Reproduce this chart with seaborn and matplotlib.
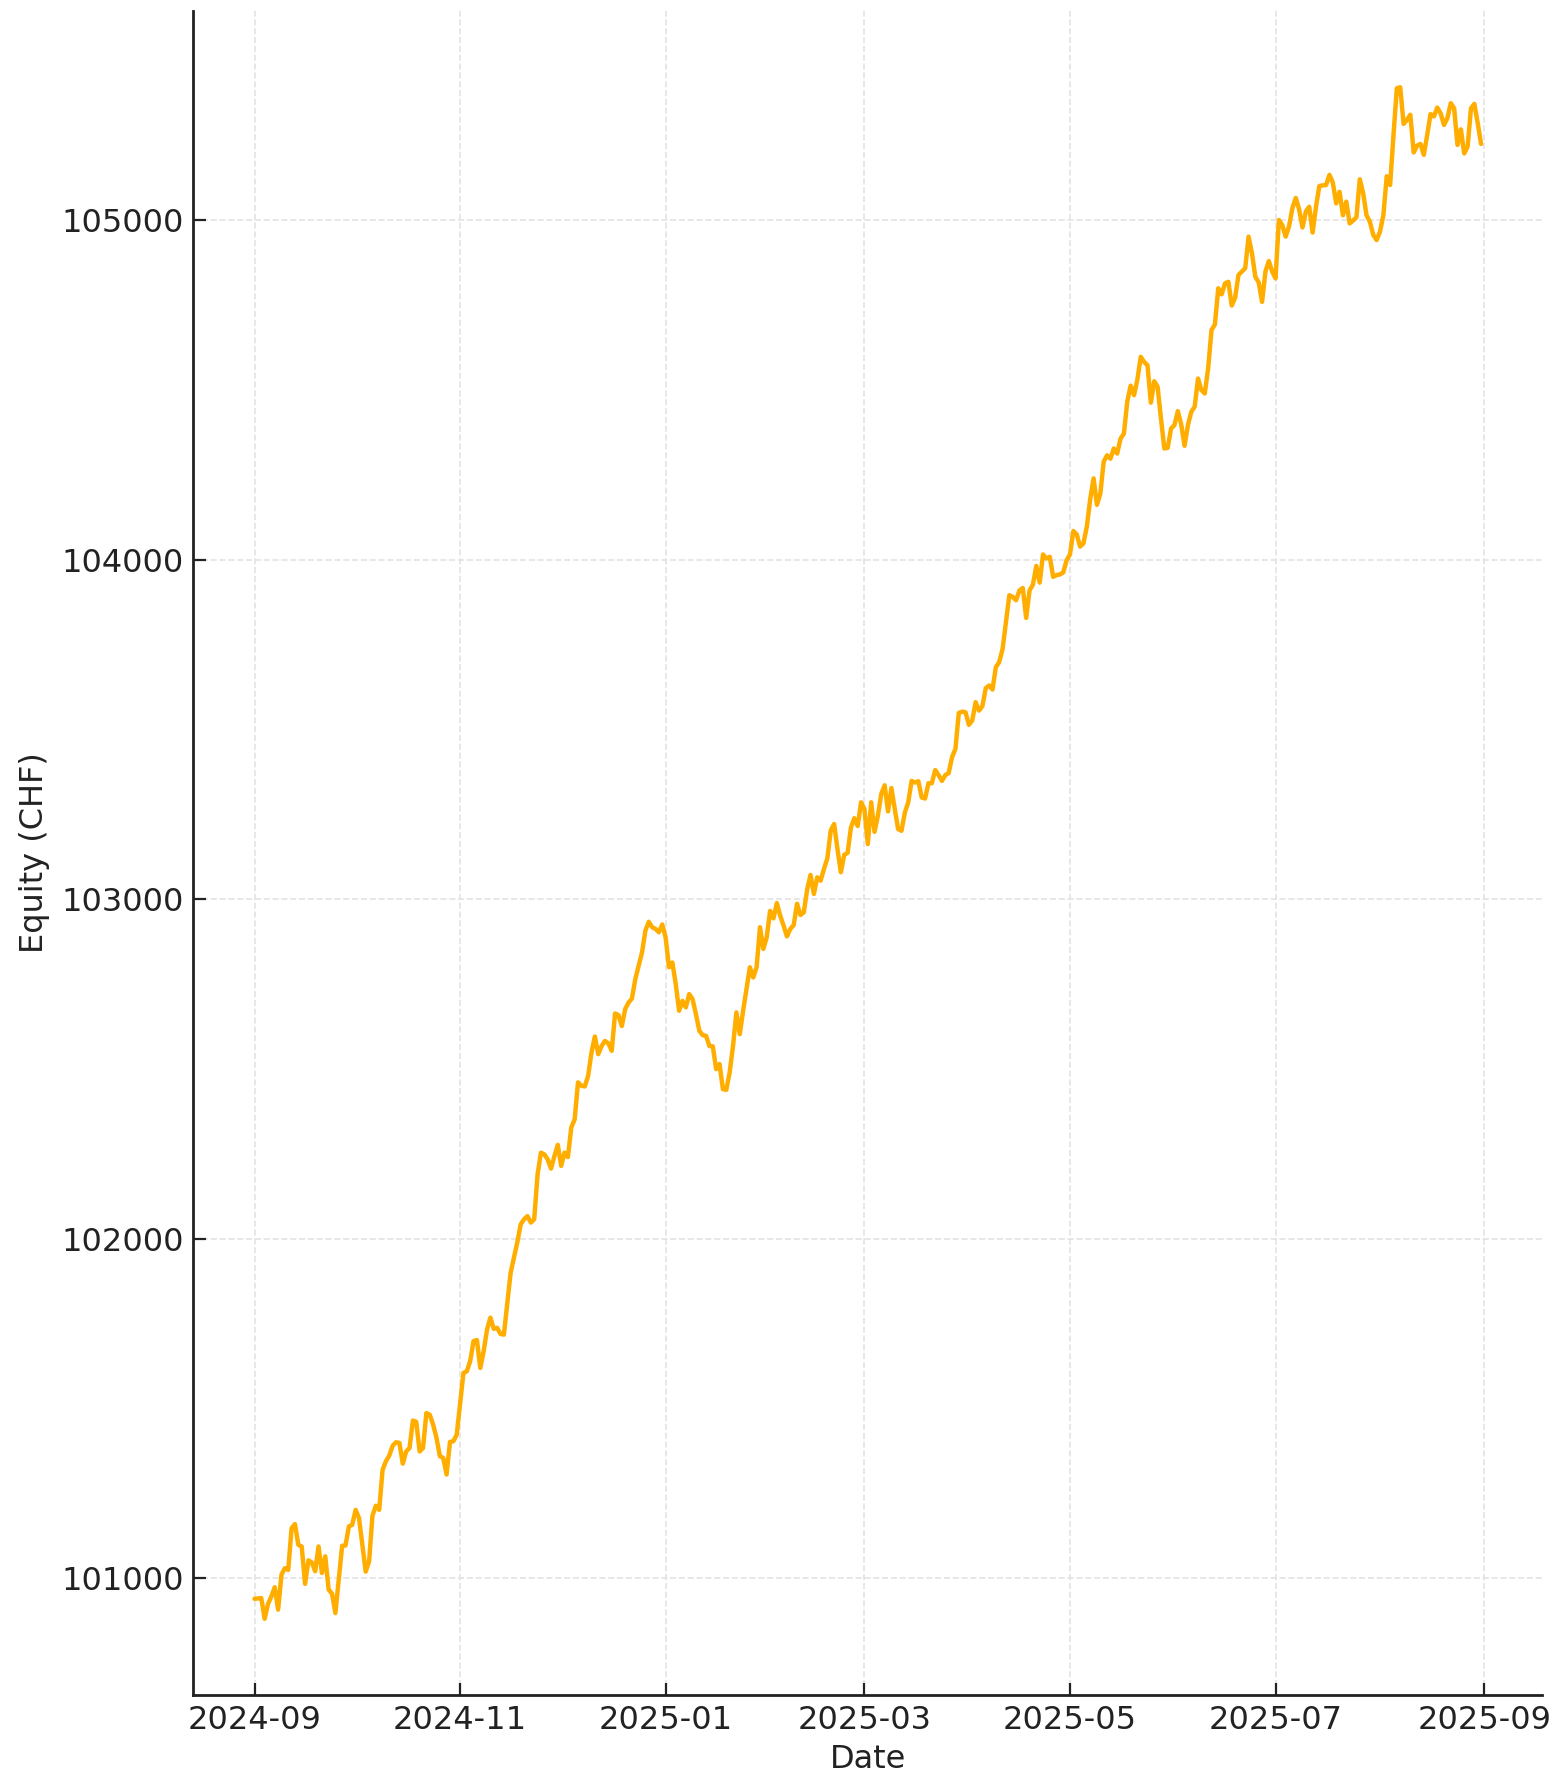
import pandas as pd
import matplotlib
matplotlib.use('Agg')
import matplotlib.pyplot as plt
import matplotlib.dates as mdates
from matplotlib.ticker import MultipleLocator
import seaborn as sns

# equity curve (day offset from start date, value in CHF)
start_date = '2024-09-01'

day_offset = [
    0, 2, 3, 4, 5, 6, 7, 8, 9, 10, 11, 12, 13, 14, 15, 16, 17, 18, 19, 20,
    21, 22, 23, 24, 26, 27, 28, 29, 30, 31, 33, 34, 35, 36, 37, 38, 39, 40,
    41, 42, 43, 44, 45, 46, 47, 48, 49, 50, 51, 52, 53, 54, 55, 56, 57, 58,
    59, 60, 62, 63, 64, 65, 66, 67, 68, 69, 70, 71, 72, 73, 74, 76, 78, 79,
    80, 81, 82, 83, 84, 85, 86, 87, 88, 89, 90, 91, 92, 93, 94, 95, 96, 97,
    98, 99, 100, 101, 102, 103, 104, 105, 106, 107, 108, 109, 110, 111, 112,
    113, 114, 115, 116, 117, 118, 119, 120, 121, 122, 123, 124, 125, 126,
    127, 128, 129, 130, 131, 132, 133, 134, 135, 136, 137, 138, 139, 140,
    141, 142, 143, 144, 145, 146, 147, 148, 149, 150, 151, 152, 153, 154,
    155, 156, 157, 158, 159, 160, 161, 162, 163, 164, 165, 166, 167, 168,
    169, 170, 171, 172, 173, 174, 175, 176, 177, 178, 179, 180, 181, 182,
    183, 184, 185, 186, 187, 188, 189, 190, 191, 192, 193, 194, 195, 196,
    197, 198, 199, 200, 201, 202, 203, 204, 205, 206, 207, 208, 209, 210,
    211, 212, 213, 214, 215, 216, 217, 218, 219, 220, 221, 222, 223, 224,
    225, 226, 227, 228, 229, 230, 231, 232, 233, 234, 235, 236, 237, 238,
    239, 240, 241, 242, 243, 244, 245, 246, 247, 248, 249, 250, 251, 252,
    253, 254, 255, 256, 257, 258, 259, 260, 261, 262, 263, 264, 265, 266,
    267, 268, 269, 270, 271, 272, 273, 274, 275, 276, 277, 278, 279, 280,
    281, 282, 283, 284, 285, 286, 287, 288, 289, 290, 291, 292, 293, 294,
    295, 296, 297, 298, 299, 300, 301, 302, 303, 304, 305, 306, 307, 308,
    309, 310, 311, 312, 313, 314, 315, 316, 317, 318, 319, 320, 321, 322,
    323, 324, 325, 326, 327, 328, 329, 330, 331, 332, 333, 334, 335, 336,
    337, 338, 339, 340, 341, 342, 343, 344, 345, 346, 347, 348, 349, 350,
    351, 352, 353, 354, 355, 356, 357, 358, 359, 360, 361, 362, 363, 364,
]

equity = [
    100939, 100941, 100880, 100924, 100946, 100973, 100907, 101010, 101029,
    101024, 101147, 101159, 101098, 101093, 100983, 101052, 101046, 101020,
    101093, 101015, 101064, 100966, 100954, 100897, 101095, 101096, 101152,
    101157, 101201, 101177, 101019, 101049, 101184, 101213, 101201, 101319,
    101344, 101361, 101390, 101400, 101398, 101337, 101373, 101383, 101464,
    101460, 101373, 101383, 101486, 101481, 101452, 101413, 101359, 101354,
    101305, 101401, 101403, 101422, 101604, 101609, 101639, 101698, 101701,
    101619, 101668, 101732, 101767, 101734, 101737, 101719, 101717, 101899,
    101990, 102042, 102057, 102066, 102047, 102057, 102189, 102253, 102248,
    102233, 102206, 102243, 102276, 102214, 102253, 102240, 102327, 102351,
    102460, 102450, 102448, 102479, 102548, 102595, 102543, 102567, 102582,
    102575, 102553, 102663, 102658, 102626, 102676, 102695, 102707, 102764,
    102803, 102843, 102907, 102933, 102917, 102912, 102902, 102925, 102887,
    102799, 102813, 102750, 102671, 102700, 102681, 102720, 102705, 102661,
    102612, 102599, 102597, 102567, 102566, 102499, 102514, 102440, 102438,
    102489, 102567, 102666, 102602, 102671, 102735, 102799, 102769, 102799,
    102917, 102853, 102887, 102965, 102943, 102988, 102951, 102922, 102890,
    102912, 102923, 102986, 102953, 102961, 103028, 103071, 103015, 103064,
    103054, 103089, 103120, 103202, 103221, 103147, 103079, 103130, 103136,
    103211, 103238, 103215, 103285, 103265, 103162, 103285, 103198, 103246,
    103310, 103335, 103258, 103327, 103265, 103206, 103201, 103255, 103285,
    103348, 103343, 103347, 103299, 103296, 103341, 103341, 103380, 103365,
    103348, 103365, 103371, 103418, 103442, 103548, 103552, 103550, 103513,
    103526, 103580, 103555, 103568, 103621, 103629, 103617, 103683, 103698,
    103737, 103816, 103895, 103890, 103880, 103909, 103916, 103828, 103909,
    103926, 103981, 103932, 104015, 104003, 104008, 103949, 103954, 103956,
    103962, 103998, 104015, 104084, 104074, 104038, 104048, 104097, 104178,
    104239, 104161, 104194, 104288, 104307, 104297, 104327, 104312, 104356,
    104371, 104465, 104512, 104484, 104530, 104597, 104582, 104572, 104462,
    104525, 104509, 104415, 104327, 104329, 104386, 104396, 104437, 104398,
    104335, 104396, 104435, 104450, 104533, 104499, 104489, 104563, 104676,
    104692, 104799, 104781, 104813, 104818, 104748, 104771, 104838, 104848,
    104858, 104951, 104902, 104833, 104816, 104759, 104848, 104879, 104848,
    104828, 105000, 104985, 104951, 104981, 105035, 105065, 105031, 104978,
    105025, 105039, 104963, 105039, 105100, 105102, 105103, 105133, 105110,
    105049, 105083, 105014, 105054, 104990, 104998, 105008, 105120, 105079,
    105014, 104995, 104956, 104941, 104966, 105014, 105129, 105103, 105250,
    105388, 105391, 105283, 105295, 105310, 105199, 105219, 105224, 105192,
    105250, 105312, 105305, 105331, 105314, 105280, 105300, 105344, 105329,
    105221, 105267, 105196, 105216, 105329, 105342, 105285, 105224,
]

LINE_COLOR = '#FFAE00'
TEXT_COLOR = '#222222'


def plot_equity_curve(output: str = 'out.png') -> None:
    sns.set_style('ticks')
    plt.rcParams['font.family'] = ['DejaVu Sans']

    df = pd.DataFrame({
        'Date': pd.to_datetime(start_date) + pd.to_timedelta(day_offset, unit='D'),
        'Equity': equity,
    })

    fig, ax = plt.subplots(figsize=(7.79, 8.895), dpi=200)
    fig.subplots_adjust(left=0.124, right=0.990, top=0.994, bottom=0.047)

    sns.lineplot(data=df, x='Date', y='Equity', color=LINE_COLOR,
                 linewidth=1.6, ax=ax)

    ax.xaxis.set_major_locator(mdates.MonthLocator(bymonth=[1, 3, 5, 7, 9, 11]))
    ax.xaxis.set_major_formatter(mdates.DateFormatter('%Y-%m'))
    ax.yaxis.set_major_locator(MultipleLocator(1000))
    ax.ticklabel_format(axis='y', style='plain', useOffset=False)

    ax.grid(True, linestyle='--', color='#e3e3e3', linewidth=0.6)
    ax.set_axisbelow(True)
    sns.despine(ax=ax)
    for side in ['left', 'bottom']:
        ax.spines[side].set_color(TEXT_COLOR)
        ax.spines[side].set_linewidth(1.0)

    ax.tick_params(direction='in', length=4.5, width=0.8, color=TEXT_COLOR,
                   labelsize=11.5, labelcolor=TEXT_COLOR)
    ax.set_xlabel('Date', fontsize=11.5, color=TEXT_COLOR, labelpad=3)
    ax.set_ylabel('Equity (CHF)', fontsize=11.5, color=TEXT_COLOR, labelpad=4)

    fig.savefig(output, dpi=200)


plot_equity_curve()
